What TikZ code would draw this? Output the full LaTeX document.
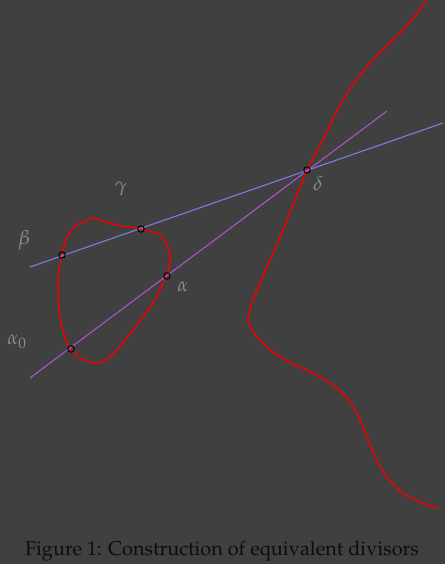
\documentclass[tikz,border=0pt]{standalone}
\usepackage[T1]{fontenc}
\usepackage{mathpazo}
\definecolor{bgc}{RGB}{64,64,64}
\definecolor{redc}{RGB}{240,0,0}
\definecolor{bluec}{RGB}{125,125,225}
\definecolor{purplec}{RGB}{170,85,200}
\definecolor{labc}{RGB}{140,140,140}
\definecolor{capc}{RGB}{12,12,12}
\begin{document}
\begin{tikzpicture}[x=1pt,y=-1pt,
  curve/.style={draw=redc,line width=1.5pt},
  blueline/.style={draw=bluec,line width=1.1pt},
  purpleline/.style={draw=purplec,line width=1.1pt},
  pt/.style={circle,draw=black,line width=0.9pt,inner sep=0pt,minimum size=6.5pt},
  lab/.style={text=labc,font=\fontsize{20}{22}\selectfont,inner sep=0pt}]
\fill[bgc] (0,0) rectangle (445,564);
\useasboundingbox (0,0) rectangle (445,564);
% red curves
\draw[curve] plot[smooth cycle,tension=0.55] coordinates {(93,218) (77,225) (67,237) (62,255) (58,280) (60,317) (67,343) (71,349) (80,358) (97,363) (110,357) (133,330) (153,303) (166,276) (170,260) (168,247) (160,235) (141,229) (117,225) (100,220)};
\draw[curve] plot[smooth,tension=0.55] coordinates {(426,1) (418,12) (405,28) (390,43) (372,61) (357,79) (346,95) (335,115) (323,140) (307,170) (295,200) (283,230) (270,260) (260,283) (253,300) (249,313) (248,320) (250,327) (257,337) (267,347) (280,357) (300,367) (320,377) (337,388) (347,398) (355,410) (363,427) (373,452) (382,470) (392,483) (403,493) (420,502) (438,508)};
% lines
\coordinate (b1) at (30,267);
\coordinate (b2) at (443,123);
\coordinate (p1) at (30,378);
\coordinate (p2) at (387,111);
\draw[blueline] (b1) -- (b2);
\draw[purpleline] (p1) -- (p2);
% points
\node[pt] (pb) at (62,255) {};
\node[pt] (pg) at (141,229) {};
\node[pt] (pa) at (167,276) {};
\node[pt] (pa0) at (71,349) {};
\node[pt] (pd) at (307,170) {};
% labels
\node[lab] (lg) at (121,189) {$\gamma$};
\node[lab] (lb) at (24,240) {$\beta$};
\node[lab] (la) at (183,287) {$\alpha$};
\node[lab] (la0) at (17,342) {$\alpha_0$};
\node[lab] (ld) at (318,183) {$\delta$};
\node[text=capc,font=\fontsize{19.9}{23}\selectfont,inner sep=0pt] (cap) at (222,551) {Figure 1: Construction of equivalent divisors};
\end{tikzpicture}
\end{document}
